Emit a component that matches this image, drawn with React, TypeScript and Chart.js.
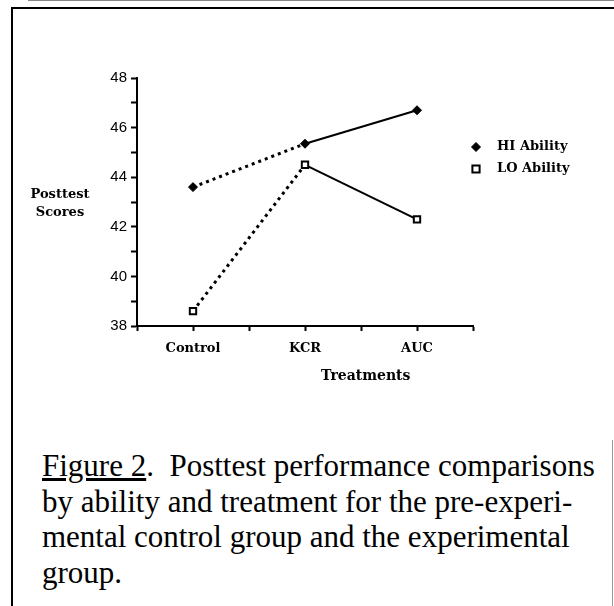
import React, { useEffect, useRef } from 'react';
import { Chart, registerables } from 'chart.js';
Chart.register(...registerables);

// ---- data ----
const categories = ['Control', 'KCR', 'AUC'];
const categoryPositions = [1, 3, 5];
const hiAbility = [43.6, 45.35, 46.7];
const loAbility = [38.6, 44.5, 42.3];
const seriesNames = ['HI Ability', 'LO Ability'];
const yTickValues = [38, 40, 42, 44, 46, 48];
const yTitleLines = ['Posttest', 'Scores'];
const xTitle = 'Treatments';
const captionLines = [
  'Posttest performance comparisons',
  'by ability and treatment for the pre-experi-',
  'mental control group and the experimental',
  'group.',
];

const SERIF_BOLD = 'bold 13px "DejaVu Serif"';

const annotationPlugin = {
  id: 'figureAnnotations',
  afterDraw(chart: any) {
    const { ctx } = chart;
    ctx.save();
    ctx.fillStyle = '#000';
    ctx.textBaseline = 'middle';
    // y axis title (horizontal, two lines)
    ctx.font = SERIF_BOLD;
    ctx.textAlign = 'center';
    ctx.fillText(yTitleLines[0], 60, 195);
    ctx.fillText(yTitleLines[1], 60, 213);
    // x axis title
    ctx.font = 'bold 14px "DejaVu Serif"';
    ctx.textAlign = 'left';
    ctx.fillText(xTitle, 321, 376);
    // legend
    const items = chart.data.datasets;
    items.forEach((ds: any, i: number) => {
      const y = 147 + i * 22;
      const x = 476;
      ctx.save();
      ctx.lineWidth = ds.pointBorderWidth;
      ctx.strokeStyle = ds.pointBorderColor;
      ctx.fillStyle = ds.pointBackgroundColor;
      const r = ds.pointRadius;
      ctx.beginPath();
      if (ds.pointStyle === 'rectRot') {
        ctx.moveTo(x, y - r);
        ctx.lineTo(x + r, y);
        ctx.lineTo(x, y + r);
        ctx.lineTo(x - r, y);
        ctx.closePath();
      } else {
        const s = r * 0.8;
        ctx.rect(x - s, y - s, 2 * s, 2 * s);
      }
      ctx.fill();
      ctx.stroke();
      ctx.restore();
      ctx.font = 'bold 13px "DejaVu Serif"';
      ctx.textAlign = 'left';
      ctx.fillStyle = '#000';
      ctx.fillText(ds.label, 497, y);
    });
    ctx.restore();
  },
};

function App() {
  const ref = useRef<HTMLCanvasElement | null>(null);
  useEffect(() => {
    if (!ref.current) return;
    const dotted = (ctx: any) => (ctx.p0DataIndex === 0 ? [3, 4] : undefined);
    const dottedWidth = (ctx: any) => (ctx.p0DataIndex === 0 ? 3 : 2);
    const chart = new Chart(ref.current, {
      type: 'line',
      data: {
        datasets: [
          {
            label: seriesNames[0],
            data: categoryPositions.map((x, i) => ({ x, y: hiAbility[i] })),
            borderColor: '#000',
            borderWidth: 2,
            pointStyle: 'rectRot',
            pointRadius: 4.5,
            pointBorderWidth: 1,
            pointBackgroundColor: '#000',
            pointBorderColor: '#000',
            segment: { borderDash: dotted, borderWidth: dottedWidth },
          } as any,
          {
            label: seriesNames[1],
            data: categoryPositions.map((x, i) => ({ x, y: loAbility[i] })),
            borderColor: '#000',
            borderWidth: 2,
            pointStyle: 'rect',
            pointRadius: 4.5,
            pointBorderWidth: 2,
            pointBackgroundColor: '#fff',
            pointBorderColor: '#000',
            segment: { borderDash: dotted, borderWidth: dottedWidth },
          } as any,
        ],
      },
      options: {
        responsive: false,
        animation: false,
        devicePixelRatio: 1,
        layout: { padding: { left: 0, top: 78, right: 141, bottom: 0 } },
        plugins: { legend: { display: false }, tooltip: { enabled: false } },
        scales: {
          x: {
            type: 'linear',
            min: 0,
            max: 6,
            afterFit: (s: any) => { s.height = 74; },
            afterBuildTicks: (s: any) => {
              s.ticks = [0, 1, 2, 3, 4, 5, 6].map((v) => ({ value: v }));
            },
            ticks: {
              autoSkip: false,
              maxRotation: 0,
              padding: 10,
              color: '#000',
              font: { family: 'DejaVu Serif', weight: 'bold', size: 13 },
              callback: (v: any) => {
                const idx = categoryPositions.indexOf(Number(v));
                return idx >= 0 ? categories[idx] : '';
              },
            },
            grid: { drawOnChartArea: false, drawTicks: true, tickLength: 5, tickWidth: 2, tickColor: '#000' },
            border: { display: true, color: '#000', width: 2 },
          },
          y: {
            type: 'linear',
            min: 38,
            max: 48,
            afterFit: (s: any) => { s.width = 137; },
            afterBuildTicks: (s: any) => {
              const t: any[] = [];
              for (let v = 38; v <= 48; v++) t.push({ value: v });
              s.ticks = t;
            },
            ticks: {
              padding: 4,
              color: '#000',
              font: { family: 'Liberation Sans', size: 15 },
              callback: (v: any) => (yTickValues.includes(Number(v)) ? String(v) : ''),
            },
            grid: { drawOnChartArea: false, drawTicks: true, tickLength: 6, tickWidth: 2, tickColor: '#000' },
            border: { display: true, color: '#000', width: 2 },
          },
        },
      } as any,
      plugins: [annotationPlugin],
    });
    return () => chart.destroy();
  }, []);

  return (
    <div style={{ position: 'absolute', left: 0, top: 0, width: 614, height: 606, background: '#fff', overflow: 'hidden' }}>
      <div style={{ position: 'absolute', left: 28, top: 0, width: 586, height: 1, background: '#888' }} />
      <div style={{ position: 'absolute', left: 11, top: 7, width: 603, height: 2, background: '#000' }} />
      <div style={{ position: 'absolute', left: 11, top: 7, width: 2, height: 599, background: '#000' }} />
      <div style={{ position: 'absolute', left: 612, top: 440, width: 1, height: 166, background: '#999' }} />
      <canvas ref={ref} width={614} height={400} style={{ position: 'absolute', left: 0, top: 0, width: 614, height: 400 }} />
      <div
        style={{
          position: 'absolute',
          left: 42,
          top: 448,
          width: 572,
          fontFamily: '"Liberation Serif", serif',
          fontSize: 31,
          lineHeight: '35.5px',
          color: '#000',
          whiteSpace: 'pre',
        }}
      >
        <span style={{ textDecoration: 'underline' }}>Figure 2</span>
        {'.  ' + captionLines[0]}
        <br />
        {captionLines[1]}
        <br />
        {captionLines[2]}
        <br />
        {captionLines[3]}
      </div>
    </div>
  );
}

export default App;
